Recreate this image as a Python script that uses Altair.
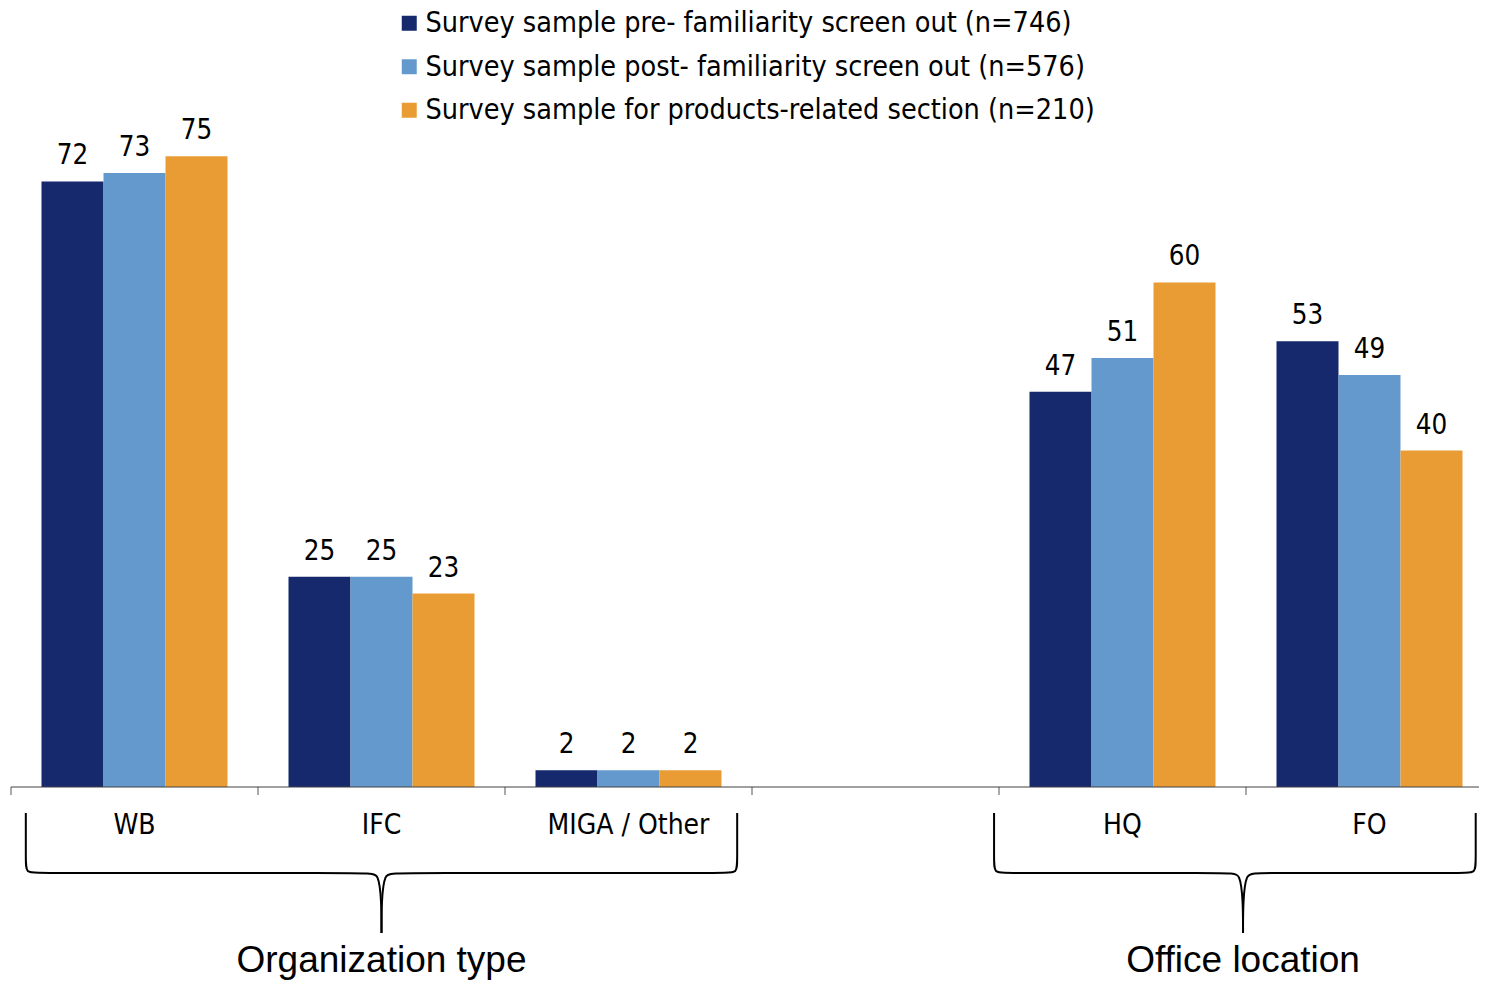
import altair as alt
import pandas as pd

# ---------------- data ----------------
categories = ["WB", "IFC", "MIGA / Other", " ", "HQ", "FO"]
series = [
    "Survey sample pre- familiarity screen out (n=746)",
    "Survey sample post- familiarity screen out (n=576)",
    "Survey sample for products-related section (n=210)",
]
pre = [72, 25, 2, None, 47, 53]
post = [73, 25, 2, None, 51, 49]
products = [75, 23, 2, None, 60, 40]
group_names = ["Organization type", "Office location"]
group_members = [["WB", "IFC", "MIGA / Other"], ["HQ", "FO"]]
colors = ["#15296c", "#6499cd", "#e99b34"]

# ---------------- layout ----------------
SLOT = 247
XR = SLOT * len(categories)      # full band range (last slot runs off the page)
W = 1468                          # visible plot width
H = 972
BASE = 779                        # baseline, px from top of plot
PX_PER_UNIT = 8.41
Y_TOP = BASE / PX_PER_UNIT
Y_BOT = -(H - BASE) / PX_PER_UNIT
F = "DejaVu Sans Condensed"
TF = "Liberation Sans"

rows = []
for s, vals in zip(series, [pre, post, products]):
    for c, v in zip(categories, vals):
        if v is not None:
            rows.append({"category": c, "series": s, "value": v})
df = pd.DataFrame(rows)

xband = alt.Scale(domain=categories, range=[0, XR], paddingInner=0, paddingOuter=0)
xoff = alt.Scale(domain=series, paddingInner=0, paddingOuter=(SLOT / 62 - 3) / 2)
yscale = alt.Scale(domain=[Y_BOT, Y_TOP], nice=False, zero=False)

bars = alt.Chart(df).mark_bar().encode(
    x=alt.X("category:N", scale=xband, axis=None),
    xOffset=alt.XOffset("series:N", scale=xoff),
    y=alt.Y("value:Q", scale=yscale, axis=None, stack=None),
    y2=alt.datum(0),
    color=alt.Color(
        "series:N",
        scale=alt.Scale(domain=series, range=colors),
        legend=alt.Legend(
            title=None, orient="none", legendX=384, legendY=1,
            symbolType="square", symbolSize=225, symbolStrokeWidth=0,
            labelFontSize=28.5, labelFont=F, labelColor="black",
            labelLimit=1200, rowPadding=14.5, labelOffset=2, padding=0,
        ),
    ),
)

labels = alt.Chart(df).mark_text(
    fontSize=27.5, font=F, baseline="alphabetic", dy=-17, color="black"
).encode(
    x=alt.X("category:N", scale=xband, axis=None),
    xOffset=alt.XOffset("series:N", scale=xoff),
    y=alt.Y("value:Q", scale=yscale, axis=None),
    text=alt.Text("value:Q", format="d"),
)

cat_df = pd.DataFrame({"category": categories})

ticks = alt.Chart(cat_df).mark_rule(color="#555555", strokeWidth=1).encode(
    x=alt.X("category:N", scale=xband, axis=None, bandPosition=0),
    y=alt.Y("k:Q", scale=yscale, axis=None),
    y2=alt.datum(-8 / PX_PER_UNIT),
).transform_calculate(k="0")

cat_labels = alt.Chart(cat_df).mark_text(
    fontSize=28, font=F, baseline="alphabetic", color="black"
).encode(
    x=alt.X("category:N", scale=xband, axis=None),
    y=alt.Y("ly:Q", scale=yscale, axis=None),
    text="category:N",
).transform_calculate(ly=str(-47 / PX_PER_UNIT))

# ---------------- braces (decoration derived from group spans) ----------------
insets = [(0.06, 0.06), (-0.02, 0.07)]
brace_rows = []
title_rows = []
ytop = -26 / PX_PER_UNIT
ymid = -86 / PX_PER_UNIT
ytip = -146 / PX_PER_UNIT
rx = 12 / SLOT
ry = 12 / PX_PER_UNIT
for gi, (name, mem) in enumerate(zip(group_names, group_members)):
    i0 = categories.index(mem[0])
    i1 = categories.index(mem[-1]) + 1
    xc = (i0 + i1) / 2 - (0.012 if gi == 1 else 0)
    x0 = i0 + insets[gi][0]
    x1 = i1 - insets[gi][1]
    title_rows.append({"group": name, "center": xc, "ty": -185 / PX_PER_UNIT})
    for side, xe in (("L", x0), ("R", x1)):
        sgn = 1 if side == "L" else -1
        pts = [
            (xe, ytop),
            (xe, ymid + ry),
            (xe, ymid),
            (xe + sgn * rx, ymid),
            (xc - sgn * 12 / SLOT, ymid),
            (xc - sgn * 3 / SLOT, ymid),
            (xc, ymid - 28 / PX_PER_UNIT),
            (xc, ytip),
        ]
        for k, (px, py) in enumerate(pts):
            brace_rows.append({"part": f"{gi}{side}", "i": k, "bx": px, "by": py})
brace_df = pd.DataFrame(brace_rows)
title_df = pd.DataFrame(title_rows)
line_df = pd.DataFrame({"lx": [0], "lx2": [len(categories)], "ly": [0]})

xq = alt.Scale(domain=[0, len(categories)], range=[0, XR], nice=False, zero=False)

axis_line = alt.Chart(line_df).mark_rule(color="#404040", strokeWidth=1).encode(
    x=alt.X("lx:Q", scale=xq, axis=None),
    x2="lx2:Q",
    y=alt.Y("ly:Q", scale=yscale, axis=None),
)

braces = alt.Chart(brace_df).mark_line(
    interpolate="basis", color="black", strokeWidth=2
).encode(
    x=alt.X("bx:Q", scale=xq, axis=None),
    y=alt.Y("by:Q", scale=yscale, axis=None),
    detail="part:N",
    order="i:Q",
)

titles = alt.Chart(title_df).mark_text(
    fontSize=37, font=TF, baseline="alphabetic", color="black"
).encode(
    x=alt.X("center:Q", scale=xq, axis=None),
    y=alt.Y("ty:Q", scale=yscale, axis=None),
    text="group:N",
)

band_layer = alt.layer(bars, labels, ticks, cat_labels)
quant_layer = alt.layer(axis_line, braces, titles)

chart = (
    alt.layer(band_layer, quant_layer)
    .resolve_scale(x="independent")
    .properties(
        width=W, height=H,
        padding={"left": 3, "top": 0, "right": 0, "bottom": 0},
        autosize=alt.AutoSizeParams(type="none"),
    )
    .configure_view(stroke=None)
)

chart.save("out.html", embed_options={"renderer": "svg", "actions": False})
